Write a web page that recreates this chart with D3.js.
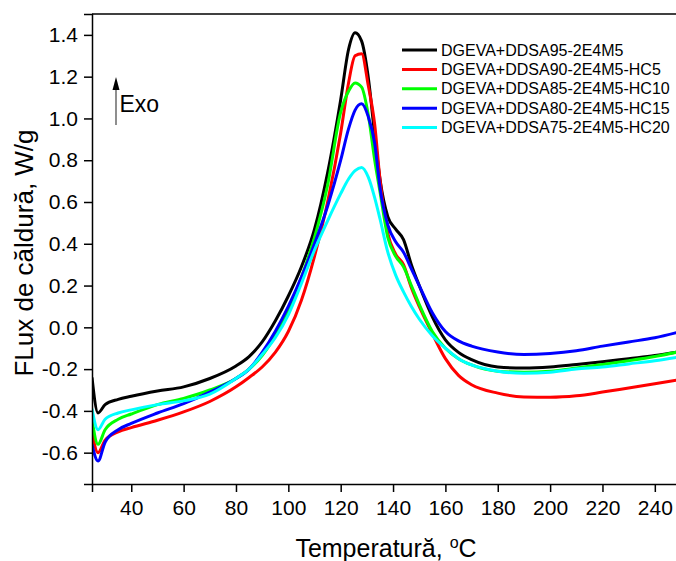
<!DOCTYPE html>
<html>
<head>
<meta charset="utf-8">
<script src="https://cdn.jsdelivr.net/npm/d3@7"></script>
<style>
  body { margin: 0; background: #fff; }
  svg { display: block; font-family: Arial, "Liberation Sans", sans-serif; }
</style>
</head>
<body>
<div id="viz"></div>
<script>
// temperature grid (°C) shared by all DSC curves
const temps = [25, 27.3, 30, 35, 40, 50, 60, 70, 80, 85, 90, 95, 100, 105, 110, 115, 120, 123, 125.5, 128,
  130.5, 133, 135, 138, 141, 144, 147, 150, 155, 160, 165, 170, 180, 190, 200, 210, 220, 230, 240, 250];

const hc0 = [-0.24, -0.41, -0.37, -0.345, -0.33, -0.305, -0.285, -0.245, -0.185, -0.14, -0.07, 0.03, 0.15, 0.29, 0.47, 0.74, 1.09, 1.33, 1.41, 1.37,
  1.2, 0.92, 0.71, 0.53, 0.47, 0.42, 0.3, 0.2, 0.05, -0.06, -0.12, -0.155, -0.19, -0.195, -0.19, -0.178, -0.165, -0.15, -0.135, -0.115];
const hc5 = [-0.5, -0.6, -0.54, -0.5, -0.48, -0.445, -0.405, -0.355, -0.285, -0.24, -0.19, -0.12, -0.02, 0.13, 0.34, 0.6, 0.93, 1.17, 1.3, 1.31,
  1.16, 0.97, 0.71, 0.45, 0.35, 0.3, 0.19, 0.1, -0.03, -0.15, -0.23, -0.275, -0.315, -0.333, -0.335, -0.328, -0.31, -0.29, -0.27, -0.25];
const hc10 = [-0.44, -0.56, -0.49, -0.44, -0.415, -0.37, -0.34, -0.3, -0.245, -0.2, -0.135, -0.04, 0.08, 0.24, 0.43, 0.68, 1.03, 1.13, 1.17, 1.15,
  1.02, 0.8, 0.65, 0.43, 0.34, 0.29, 0.2, 0.11, -0.02, -0.1, -0.15, -0.18, -0.21, -0.215, -0.21, -0.195, -0.178, -0.16, -0.14, -0.115];
const hc15 = [-0.56, -0.64, -0.55, -0.49, -0.46, -0.41, -0.365, -0.31, -0.245, -0.2, -0.12, -0.02, 0.1, 0.24, 0.4, 0.58, 0.8, 0.95, 1.04, 1.07,
  1.01, 0.88, 0.67, 0.49, 0.41, 0.36, 0.28, 0.2, 0.07, -0.02, -0.065, -0.09, -0.118, -0.13, -0.125, -0.112, -0.09, -0.07, -0.05, -0.02];
const hc20 = [-0.39, -0.49, -0.44, -0.41, -0.395, -0.37, -0.352, -0.32, -0.245, -0.2, -0.13, -0.05, 0.06, 0.21, 0.37, 0.51, 0.64, 0.71, 0.75, 0.765,
  0.72, 0.62, 0.52, 0.36, 0.25, 0.17, 0.1, 0.04, -0.04, -0.1, -0.15, -0.18, -0.21, -0.22, -0.215, -0.2, -0.19, -0.175, -0.16, -0.14];

const names = ["DGEVA+DDSA95-2E4M5", "DGEVA+DDSA90-2E4M5-HC5", "DGEVA+DDSA85-2E4M5-HC10",
  "DGEVA+DDSA80-2E4M5-HC15", "DGEVA+DDSA75-2E4M5-HC20"];
const colors = ["#000000", "#ff0000", "#00ff00", "#0000ff", "#00ffff"];
const seriesValues = [hc0, hc5, hc10, hc15, hc20];

const xTicks = [40, 60, 80, 100, 120, 140, 160, 180, 200, 220, 240];
const yTicks = [-0.6, -0.4, -0.2, 0.0, 0.2, 0.4, 0.6, 0.8, 1.0, 1.2, 1.4];

const width = 676, height = 561;
const margin = {left: 92, top: 14, right: -5, bottom: 77};
const font = "Arial, 'Liberation Sans', sans-serif";

const series = names.map((name, i) => ({
  name, color: colors[i],
  values: temps.map((t, j) => ({t, v: seriesValues[i][j]}))
}));

const x = d3.scaleLinear().domain([25, 250]).range([margin.left, width - margin.right]);
const y = d3.scaleLinear().domain([-0.75, 1.5]).range([height - margin.bottom, margin.top]);

const svg = d3.select("#viz").append("svg")
    .attr("width", width)
    .attr("height", height);

// curves, clipped to the frame
svg.append("clipPath").attr("id", "clip")
  .append("rect")
    .attr("x", x(25)).attr("y", y(1.5))
    .attr("width", x(250) - x(25)).attr("height", y(-0.75) - y(1.5));

const line = d3.line()
    .curve(d3.curveMonotoneX)
    .x(d => x(d.t))
    .y(d => y(d.v));

svg.append("g")
    .attr("clip-path", "url(#clip)")
    .attr("fill", "none")
    .attr("stroke-width", 3)
    .attr("stroke-linejoin", "round")
  .selectAll("path")
  .data(series)
  .join("path")
    .attr("stroke", d => d.color)
    .attr("d", d => line(d.values));

// x axis with minor ticks
const xAxis = svg.append("g")
    .attr("transform", `translate(0,${y(-0.75)})`);
xAxis.call(d3.axisBottom(x).tickValues(d3.range(30, 251, 10)).tickSize(4).tickFormat(""));
xAxis.call(d3.axisBottom(x).tickValues(xTicks).tickSize(8).tickPadding(8).tickFormat(d3.format("d")));
xAxis.selectAll(".domain").attr("stroke-width", 1.5);
xAxis.selectAll("text").attr("font-size", 21).attr("fill", "#000").attr("font-family", font);
xAxis.selectAll("line").attr("stroke-width", 1.5);

// y axis with minor ticks; plain hyphen for negatives like the original
const yAxis = svg.append("g")
    .attr("transform", `translate(${x(25)},0)`);
yAxis.call(d3.axisLeft(y).tickValues(d3.range(-7, 15, 1).map(d => d / 10)).tickSize(4).tickFormat(""));
yAxis.call(d3.axisLeft(y).tickValues(yTicks).tickSize(8).tickPadding(6)
    .tickFormat(d => d3.format(".1f")(d).replace("−", "-")));
yAxis.selectAll(".domain").attr("stroke-width", 1.5);
yAxis.selectAll("text").attr("font-size", 21).attr("fill", "#000").attr("font-family", font);
yAxis.selectAll("line").attr("stroke-width", 1.5);

// top frame line
svg.append("line")
    .attr("x1", x(25)).attr("x2", x(250))
    .attr("y1", y(1.5)).attr("y2", y(1.5))
    .attr("stroke", "#000").attr("stroke-width", 1.5);

// axis titles
svg.append("text")
    .attr("x", 386).attr("y", 557)
    .attr("text-anchor", "middle")
    .attr("font-size", 25)
    .call(t => {
      t.append("tspan").text("Temperatură, ");
      t.append("tspan").attr("font-size", 16).attr("dy", -9).text("o");
      t.append("tspan").attr("dy", 9).text("C");
    });

svg.append("text")
    .attr("transform", "translate(33,253) rotate(-90)")
    .attr("text-anchor", "middle")
    .attr("font-size", 26)
    .text("FLux de căldură, W/g");

// Exo arrow
svg.append("line")
    .attr("x1", 116).attr("x2", 116)
    .attr("y1", 125).attr("y2", 88)
    .attr("stroke", "#444").attr("stroke-width", 1.2);
svg.append("path")
    .attr("d", "M116,77 L119.5,90 L112.5,90 Z")
    .attr("fill", "#000");

svg.append("text")
    .attr("x", 119.5).attr("y", 112)
    .attr("font-size", 23)
    .text("Exo");

// legend
const legend = svg.append("g")
    .attr("transform", "translate(402,50)")
  .selectAll("g")
  .data(series)
  .join("g")
    .attr("transform", (d, i) => `translate(0,${i * 19.4})`);

legend.append("line")
    .attr("x1", 0).attr("x2", 35)
    .attr("stroke", d => d.color)
    .attr("stroke-width", 3);

legend.append("text")
    .attr("x", 39)
    .attr("dy", "0.35em")
    .attr("font-size", 16)
    .text(d => d.name);
</script>
</body>
</html>
